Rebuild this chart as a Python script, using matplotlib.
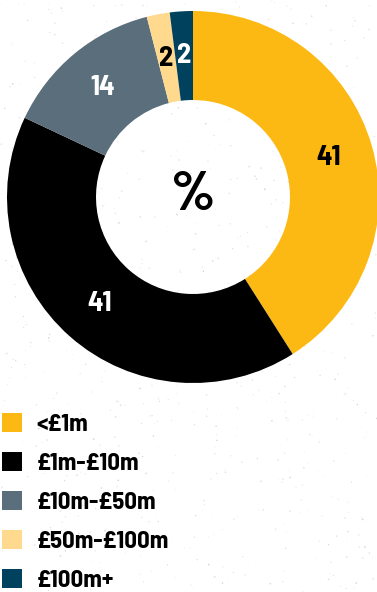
import matplotlib
matplotlib.use("Agg")
import matplotlib.pyplot as plt
from matplotlib import font_manager
import numpy as np

# Share of companies by size band (%)
bands = ["<£1m", "£1m-£10m", "£10m-£50m", "£50m-£100m", "£100m+"]
shares = [41, 41, 14, 2, 2]
colors = ["#FDB913", "#000000", "#5B6E7C", "#FED98E", "#00415E"]
label_colors = ["#000000", "#FFFFFF", "#FFFFFF", "#000000", "#FFFFFF"]

W, H = 377, 592
fig = plt.figure(figsize=(W / 100, H / 100), dpi=100)
ax = fig.add_axes([0, 0, 1, 1])
ax.set_xlim(0, W)
ax.set_ylim(0, H)
ax.set_aspect("equal")
ax.axis("off")

# faint paper speckle behind everything
rng = np.random.default_rng(7)
n = 800
sx = rng.uniform(0, W, n)
sy = rng.uniform(0, H, n)
ax.scatter(sx, sy, s=rng.uniform(0.2, 1.4, n), c="#8a8a8a",
           alpha=rng.uniform(0.1, 0.4, n), linewidths=0, zorder=0)

cx, cy = 193, H - 197
r_out, ring = 186, 89
families = ["Barlow Semi Condensed", "Barlow Condensed", "Roboto Condensed", "DejaVu Sans"]
fp = dict(family=families, weight="bold")

wedges, _ = ax.pie(shares, colors=colors, startangle=90, counterclock=False,
                   center=(cx, cy), radius=r_out,
                   wedgeprops=dict(width=ring, linewidth=0, zorder=2))
ax.set_xlim(0, W)
ax.set_ylim(0, H)

r_lab = r_out - ring / 2
for w, v, lc in zip(wedges, shares, label_colors):
    ang = np.deg2rad((w.theta1 + w.theta2) / 2)
    ax.text(cx + r_lab * np.cos(ang), cy + r_lab * np.sin(ang), str(v),
            ha="center", va="center", fontsize=20.5, color=lc, zorder=3, **fp)

ax.text(cx, cy + 1, "%", ha="center", va="center", fontsize=40, color="black", zorder=3, **fp)

leg = ax.legend(wedges, bands, loc="upper left", bbox_to_anchor=(2 / W, 1 - 413 / H),
                frameon=False, handlelength=0.81, handleheight=0.81, handletextpad=0.6,
                labelspacing=0.64, borderpad=0, borderaxespad=0,
                prop=font_manager.FontProperties(size=17.8, **fp))

fig.savefig("out.png", dpi=100, facecolor="white")
